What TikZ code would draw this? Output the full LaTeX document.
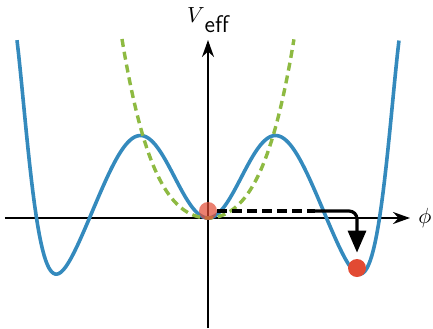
\documentclass[tikz,border=0pt]{standalone}
\usepackage{amsmath}
\usepackage{tikz}
\usetikzlibrary{calc,positioning,arrows.meta}
\definecolor{Pot}{HTML}{348ABD}
\definecolor{Approx}{HTML}{8EBA42}
\definecolor{Ball}{HTML}{E24A33}

\begin{document}
\begin{tikzpicture}[x=0.5pt,y=0.5pt,font=\fontsize{11}{13}\selectfont,
  declare function={Veff(\q)=\q*(\q-1.4042)*(\q-2.9412)*(109.54-88.21*\q+38.337*\q*\q-5.504*\q*\q*\q);
    Vquad(\q)=130.1*\q+151.4*\q*\q;}]
\useasboundingbox (-208,-110) rectangle (225,218);
\coordinate (xl) at (-203,0);
\coordinate (xr) at (202,0);
\coordinate (yb) at (0,-110);
\coordinate (yt) at (0,178);
\draw[line width=1pt,-{Stealth[length=8.5pt,width=6pt]}] (xl)--(xr);
\draw[line width=1pt,-{Stealth[length=8.5pt,width=6pt]}] (yb)--(yt);
\node[inner sep=0pt,right=4pt of xr] (philabel) {$\phi$};
\node[inner sep=0pt,above=3.5pt of yt] (vlabel) {$V$\raisebox{-5pt}{\fontsize{12}{14}\selectfont\sffamily eff}};
% potential and its small-field approximation
\draw[Pot,line width=1.8pt,line join=round] plot[domain=-1.91:1.91,samples=241] ({100*\x},{Veff(\x*\x)});
\draw[Approx,line width=1.7pt,dash pattern=on 4pt off 2.5pt] plot[domain=-0.86:0.86,samples=121] ({100*\x},{Vquad(\x*\x)});
\node[circle,fill=Ball,fill opacity=0.7,minimum size=9pt,inner sep=0pt] (ballA) at (0,7) {};
\node[circle,fill=Ball,minimum size=9pt,inner sep=0pt] (ballB) at (149,-50) {};
\coordinate (bend) at (107,7);
\draw[line width=1.6pt,dash pattern=on 5pt off 2.5pt] (ballA.east)--(bend);
\draw[line width=1.6pt,rounded corners=4pt,-{Triangle[length=11pt,width=9pt]}] (bend) -| ($(ballB.north)+(0,6)$);
\end{tikzpicture}
\end{document}
